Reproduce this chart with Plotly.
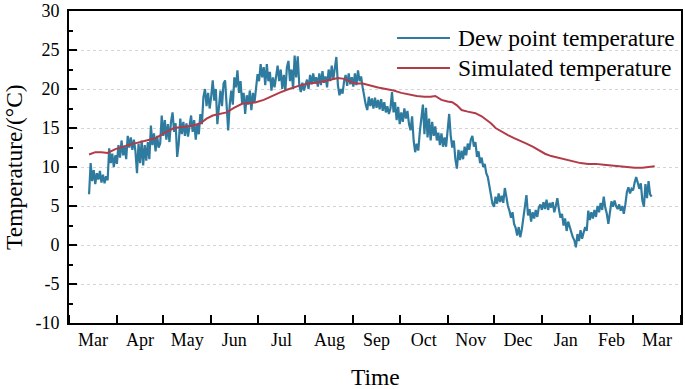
import pandas as pd
import plotly.graph_objects as go

# ---- data ----
month_labels = ["Mar", "Apr", "May", "Jun", "Jul", "Aug", "Sep", "Oct", "Nov", "Dec", "Jan", "Feb", "Mar"]
y_tick_values = [-10, -5, 0, 5, 10, 15, 20, 25, 30]
y_tick_labels = ["-10", "-5", "0", "5", "10", "15", "20", "25", "30"]
dew_start = "2018-03-14"
dew_point = [
    6.5, 10.5, 8.2, 9.6, 7.8, 9.2, 8.4, 9.5, 8.0, 9.0, 7.9, 8.8, 8.3,
    12.4, 10.5, 11.7, 10.0, 11.5, 10.4, 12.8, 11.2, 13.4, 11.5, 12.6, 11.0, 14.0, 12.5, 13.8,
    12.2, 13.5, 12.0, 9.2, 13.0, 10.5, 13.4, 10.2, 12.8, 10.8, 13.2, 11.0, 15.3, 12.8, 14.3,
    12.0, 14.0, 12.5, 13.0, 16.6, 14.0, 16.0, 13.5, 15.5, 13.2, 15.8, 17.0, 14.5, 15.6, 11.3,
    13.0, 16.2, 14.2, 15.8, 14.0, 15.6, 13.9, 15.2, 16.6, 14.5, 16.0, 13.5, 15.4, 14.2, 16.8,
    15.5, 19.0, 20.0, 17.8, 19.5, 17.5, 19.0, 21.1, 18.5, 20.0, 15.5, 18.0, 19.8, 17.8, 20.7,
    21.1, 18.5, 14.7, 18.0, 19.8, 18.0, 21.5, 20.2, 22.4, 19.5, 21.0, 18.2, 19.5, 16.8, 19.2,
    18.0, 19.8, 17.3, 19.5, 18.2, 20.0, 21.9, 21.0, 23.2, 21.5, 22.8, 20.5, 23.2, 21.0, 22.2,
    19.8, 21.5, 20.2, 22.0, 23.0, 21.0, 22.5, 20.0, 21.8, 19.8, 22.8, 23.6, 21.0, 22.5, 20.0,
    24.3, 21.5, 24.2, 20.5, 19.6, 20.8, 19.8, 20.5, 21.2, 20.0, 21.8, 20.6, 22.0, 20.8, 21.5,
    20.3, 22.0, 20.5, 22.3, 20.8, 21.6, 20.2, 22.5, 21.0, 23.0, 21.2, 22.4, 24.1, 20.5, 19.2,
    20.0, 19.4, 21.0, 21.8, 20.4, 22.0, 20.6, 21.5, 20.3, 22.0, 20.5, 22.4, 21.0, 21.6, 20.2,
    19.0, 18.0, 17.3, 19.0, 17.8, 18.8, 17.5, 18.9, 17.6, 18.6, 17.4, 18.7, 17.2, 18.3, 17.0,
    17.8, 16.8, 17.5, 19.6, 17.0, 18.3, 16.0, 17.7, 15.5, 17.0, 15.8, 17.5, 16.2, 17.2, 15.5,
    14.7, 16.5, 13.4, 11.9, 13.0, 12.1, 14.5, 16.0, 18.0, 14.2, 17.6, 13.8, 16.2, 13.4, 15.8,
    14.0, 15.2, 13.4, 14.4, 12.8, 14.3, 12.6, 13.8, 12.6, 14.7, 16.8, 14.0, 12.5, 13.4, 11.0,
    9.8, 12.2, 10.9, 12.1, 11.0, 12.6, 11.5, 13.0, 12.2, 13.5, 14.0, 12.6, 13.2, 11.3, 12.0,
    10.5, 11.2, 10.0, 10.4, 9.2, 8.7, 7.5, 6.5, 5.3, 4.9, 6.2, 5.3, 6.6, 5.5, 6.3,
    5.4, 7.3, 6.2, 5.0, 4.4, 3.5, 4.2, 2.7, 2.2, 1.2, 2.3, 1.0, 2.0, 3.5, 4.5,
    6.4, 3.8, 4.6, 3.0, 4.2, 3.4, 4.5, 3.6, 4.8, 5.2, 4.5, 5.5, 4.6, 5.8, 4.5,
    5.4, 4.8, 5.5, 4.2, 5.0, 6.0, 4.6, 3.5, 4.0, 2.5, 3.4, 1.8, 3.0, 2.2, 1.5,
    1.0, 0.6, -0.3, 1.4, 0.5, 1.9, 0.8, 1.6, 2.3, 1.8, 4.4, 3.2, 4.2, 3.4, 4.5,
    3.6, 5.0, 4.2, 5.4, 4.5, 6.2, 4.8, 4.0, 2.7, 4.6, 5.6, 4.9, 5.7, 5.0, 4.6,
    5.2, 4.4, 5.0, 4.0, 5.2, 6.8, 7.4, 6.6, 7.2, 7.0, 8.0, 8.7, 8.0, 7.2, 7.9,
    5.7, 4.9, 7.8, 6.0, 8.2, 6.5, 6.2,
]
sim_dates = [
    "2018-03-14", "2018-03-18", "2018-03-22", "2018-03-26", "2018-03-31", "2018-04-04", "2018-04-08",
    "2018-04-12", "2018-04-17", "2018-04-22", "2018-04-26", "2018-04-30", "2018-05-04", "2018-05-08",
    "2018-05-12", "2018-05-16", "2018-05-20", "2018-05-25", "2018-05-29", "2018-06-02", "2018-06-06",
    "2018-06-11", "2018-06-16", "2018-06-21", "2018-06-26", "2018-06-30", "2018-07-05", "2018-07-10",
    "2018-07-15", "2018-07-20", "2018-07-24", "2018-07-29", "2018-08-03", "2018-08-08", "2018-08-13",
    "2018-08-18", "2018-08-22", "2018-08-26", "2018-08-30", "2018-09-02", "2018-09-07", "2018-09-12",
    "2018-09-17", "2018-09-22", "2018-09-27", "2018-10-02", "2018-10-07", "2018-10-12", "2018-10-17",
    "2018-10-21", "2018-10-24", "2018-10-28", "2018-11-01", "2018-11-04", "2018-11-07", "2018-11-10",
    "2018-11-14", "2018-11-19", "2018-11-23", "2018-11-26", "2018-11-29", "2018-12-02", "2018-12-06",
    "2018-12-10", "2018-12-14", "2018-12-18", "2018-12-22", "2018-12-26", "2018-12-30", "2019-01-03",
    "2019-01-07", "2019-01-11", "2019-01-16", "2019-01-21", "2019-01-26", "2019-01-31", "2019-02-05",
    "2019-02-10", "2019-02-15", "2019-02-20", "2019-02-25", "2019-03-02", "2019-03-07", "2019-03-12",
    "2019-03-15",
]
sim_temp = [
    11.6, 11.9, 11.9, 11.8, 12.3, 12.6, 12.8, 13.0, 13.3, 13.5, 13.7, 14.2, 14.6, 15.0,
    15.1, 15.2, 15.3, 15.6, 16.2, 16.6, 16.8, 17.0, 17.6, 18.1, 18.2, 18.3, 18.6, 19.1,
    19.5, 19.9, 20.2, 20.5, 20.7, 20.8, 21.0, 21.2, 21.4, 21.3, 21.0, 20.7, 20.7, 20.4,
    20.2, 20.0, 19.8, 19.5, 19.3, 19.1, 19.0, 19.0, 19.1, 18.6, 18.4, 18.3, 17.9, 17.3,
    17.1, 16.9, 16.5, 16.1, 15.6, 15.0, 14.5, 14.1, 13.7, 13.4, 13.0, 12.6, 12.1, 11.7,
    11.4, 11.2, 11.0, 10.7, 10.5, 10.4, 10.4, 10.3, 10.2, 10.1, 10.0, 9.9, 9.9, 10.0,
    10.1,
]

BLUE = "#2f7b9f"
RED = "#b23b48"
FONT = "Liberation Serif, Times New Roman, serif"

dew_dates = pd.date_range(dew_start, periods=len(dew_point), freq="D")

fig = go.Figure()
fig.add_trace(go.Scatter(x=dew_dates, y=dew_point, mode="lines",
                         line=dict(color=BLUE, width=2.2), name="Dew point temperature"))
fig.add_trace(go.Scatter(x=pd.to_datetime(sim_dates), y=sim_temp, mode="lines",
                         line=dict(color=RED, width=2), name="Simulated temperature"))

fig.update_layout(
    width=685, height=389,
    margin=dict(l=69, r=4, t=11, b=66, autoexpand=False),
    paper_bgcolor="white", plot_bgcolor="white",
    showlegend=False,
    font=dict(family=FONT, color="black", size=18),
)
fig.update_xaxes(
    type="date", range=["2018-03-01", "2019-04-01"], automargin=False,
    tick0="2018-03-01", dtick="M1", ticklabelmode="period", tickformat="%b",
    ticks="inside", ticklen=8, tickwidth=1.5, tickcolor="black",
    showline=True, linecolor="black", linewidth=1.6, mirror=True,
    showgrid=False, zeroline=False,
    tickfont=dict(family=FONT, size=18, color="black"),
)
fig.update_yaxes(
    range=[-10, 30], automargin=False,
    tickmode="array", tickvals=y_tick_values, ticktext=y_tick_labels,
    ticks="inside", ticklen=8, tickwidth=1.5, tickcolor="black", ticklabelstandoff=4,
    minor=dict(dtick=2.5, tick0=0, ticks="inside", ticklen=4, tickwidth=1.5, tickcolor="black", showgrid=False),
    showline=True, linecolor="black", linewidth=1.6, mirror=True,
    showgrid=True, gridcolor="#d4d4d4", griddash="dot", gridwidth=1,
    zeroline=False,
    tickfont=dict(family=FONT, size=18, color="black"),
)

# axis titles
fig.add_annotation(text="Temperature/(°C)", xref="paper", yref="paper", x=0, y=0.5,
                   xanchor="center", yanchor="middle", xshift=-55, textangle=-90,
                   showarrow=False, font=dict(family=FONT, size=23.5, color="black"))
fig.add_annotation(text="Time", xref="paper", yref="paper", x=0.5, y=0,
                   xanchor="center", yanchor="middle", yshift=-54,
                   showarrow=False, font=dict(family=FONT, size=23.5, color="black"))

# legend (drawn manually)
legend_items = [("Dew point temperature", BLUE, 0.9135), ("Simulated temperature", RED, 0.817)]
for label, color, ly in legend_items:
    fig.add_shape(type="line", xref="paper", yref="paper", x0=0.536, x1=0.6225, y0=ly, y1=ly,
                  line=dict(color=color, width=2))
    fig.add_annotation(text=label, xref="paper", yref="paper", x=0.632, y=ly,
                       xanchor="left", yanchor="middle", showarrow=False,
                       font=dict(family=FONT, size=23.5, color="black"))

fig.write_html("out.html", config={"displayModeBar": False},
               post_script="document.body.style.margin='0';document.body.style.padding='0';")
